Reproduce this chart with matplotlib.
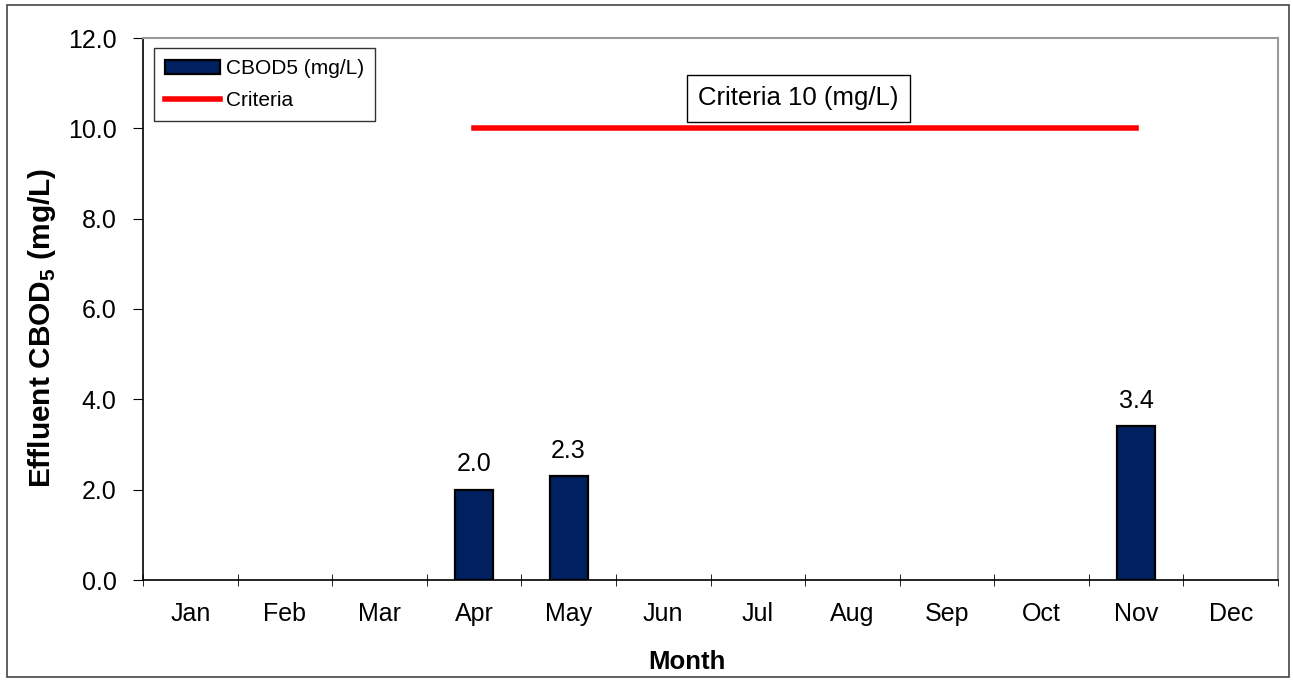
import numpy as np
import matplotlib.pyplot as plt
from matplotlib.patches import Rectangle

plt.rcParams['font.family'] = ['Liberation Sans', 'DejaVu Sans']
plt.rcParams['mathtext.fontset'] = 'custom'
plt.rcParams['mathtext.bf'] = 'Liberation Sans:bold'
plt.rcParams['mathtext.rm'] = 'Liberation Sans'

months = ['Jan', 'Feb', 'Mar', 'Apr', 'May', 'Jun', 'Jul', 'Aug', 'Sep', 'Oct', 'Nov', 'Dec']
cbod5 = [np.nan, np.nan, np.nan, 2.0, 2.3, np.nan, np.nan, np.nan, np.nan, np.nan, 3.4, np.nan]
criteria = [np.nan, np.nan, np.nan, 10, 10, 10, 10, 10, 10, 10, 10, np.nan]

fig = plt.figure(figsize=(12.93, 6.81), dpi=100)
ax = fig.add_axes([143/1293, 1-580/681, (1278-143)/1293, (580-38)/681])

# outer border of the chart
fig.patches.append(Rectangle((7/1293, 4/681), 1282/1293, 672/681, transform=fig.transFigure,
                             fill=False, edgecolor='#444444', linewidth=1.2))

x = np.arange(len(months))
vals = np.array(cbod5, dtype=float)
has = ~np.isnan(vals)
bars = ax.bar(x[has], vals[has], width=0.4, color='#002060', edgecolor='black', linewidth=1.6,
              label='CBOD5 (mg/L)', zorder=3)
line, = ax.plot(x, criteria, color='#ff0000', linewidth=4, label='Criteria', zorder=4)

for xi, v in zip(x[has], vals[has]):
    ax.text(xi, v + 0.3, f'{v:.1f}', ha='center', va='bottom', fontsize=18)

ax.set_xlim(-0.5, 11.5)
ax.set_ylim(0, 12)
ax.set_yticks(np.arange(0, 12.1, 2))
ax.set_yticklabels([f'{t:.1f}' for t in np.arange(0, 12.1, 2)], fontsize=18)
ax.set_xticks(x)
ax.set_xticklabels(months, fontsize=18)
ax.set_xticks(np.arange(-0.5, 12, 1), minor=True)
ax.tick_params(axis='x', which='major', length=0, pad=16)
ax.tick_params(axis='x', which='minor', length=8, direction='inout', color='black')
ax.tick_params(axis='y', length=7, direction='out', color='black', pad=12)

ax.spines['top'].set_color('#999999')
ax.spines['right'].set_color('#999999')
ax.spines['top'].set_linewidth(1.5)
ax.spines['right'].set_linewidth(1.5)
ax.spines['left'].set_linewidth(1.2)
ax.spines['bottom'].set_linewidth(1.2)

ax.set_xlabel('Month', fontsize=18.5, fontweight='bold', va='center')
ax.xaxis.set_label_coords(0.479, -0.151)
ax.set_ylabel(r'Effluent CBOD$_\mathbf{5}$ (mg/L)', fontsize=21.5, fontweight='bold', va='center')
ax.yaxis.set_label_coords(-0.089, 0.465)

ax.text(6.43, 10.67, 'Criteria 10 (mg/L)', ha='center', va='center', fontsize=18.5,
        bbox=dict(boxstyle='square,pad=0.45', facecolor='white', edgecolor='black', linewidth=1))

leg = ax.legend([bars, line], ['CBOD5 (mg/L)', 'Criteria'], loc='upper left',
                bbox_to_anchor=(0.0097, 0.9815), fontsize=15, frameon=True,
                fancybox=False, edgecolor='black', handlelength=2.6, handletextpad=0.3,
                borderpad=0.55, labelspacing=0.6, borderaxespad=0)
leg.get_frame().set_linewidth(1)

fig.savefig('out.png', dpi=100)
